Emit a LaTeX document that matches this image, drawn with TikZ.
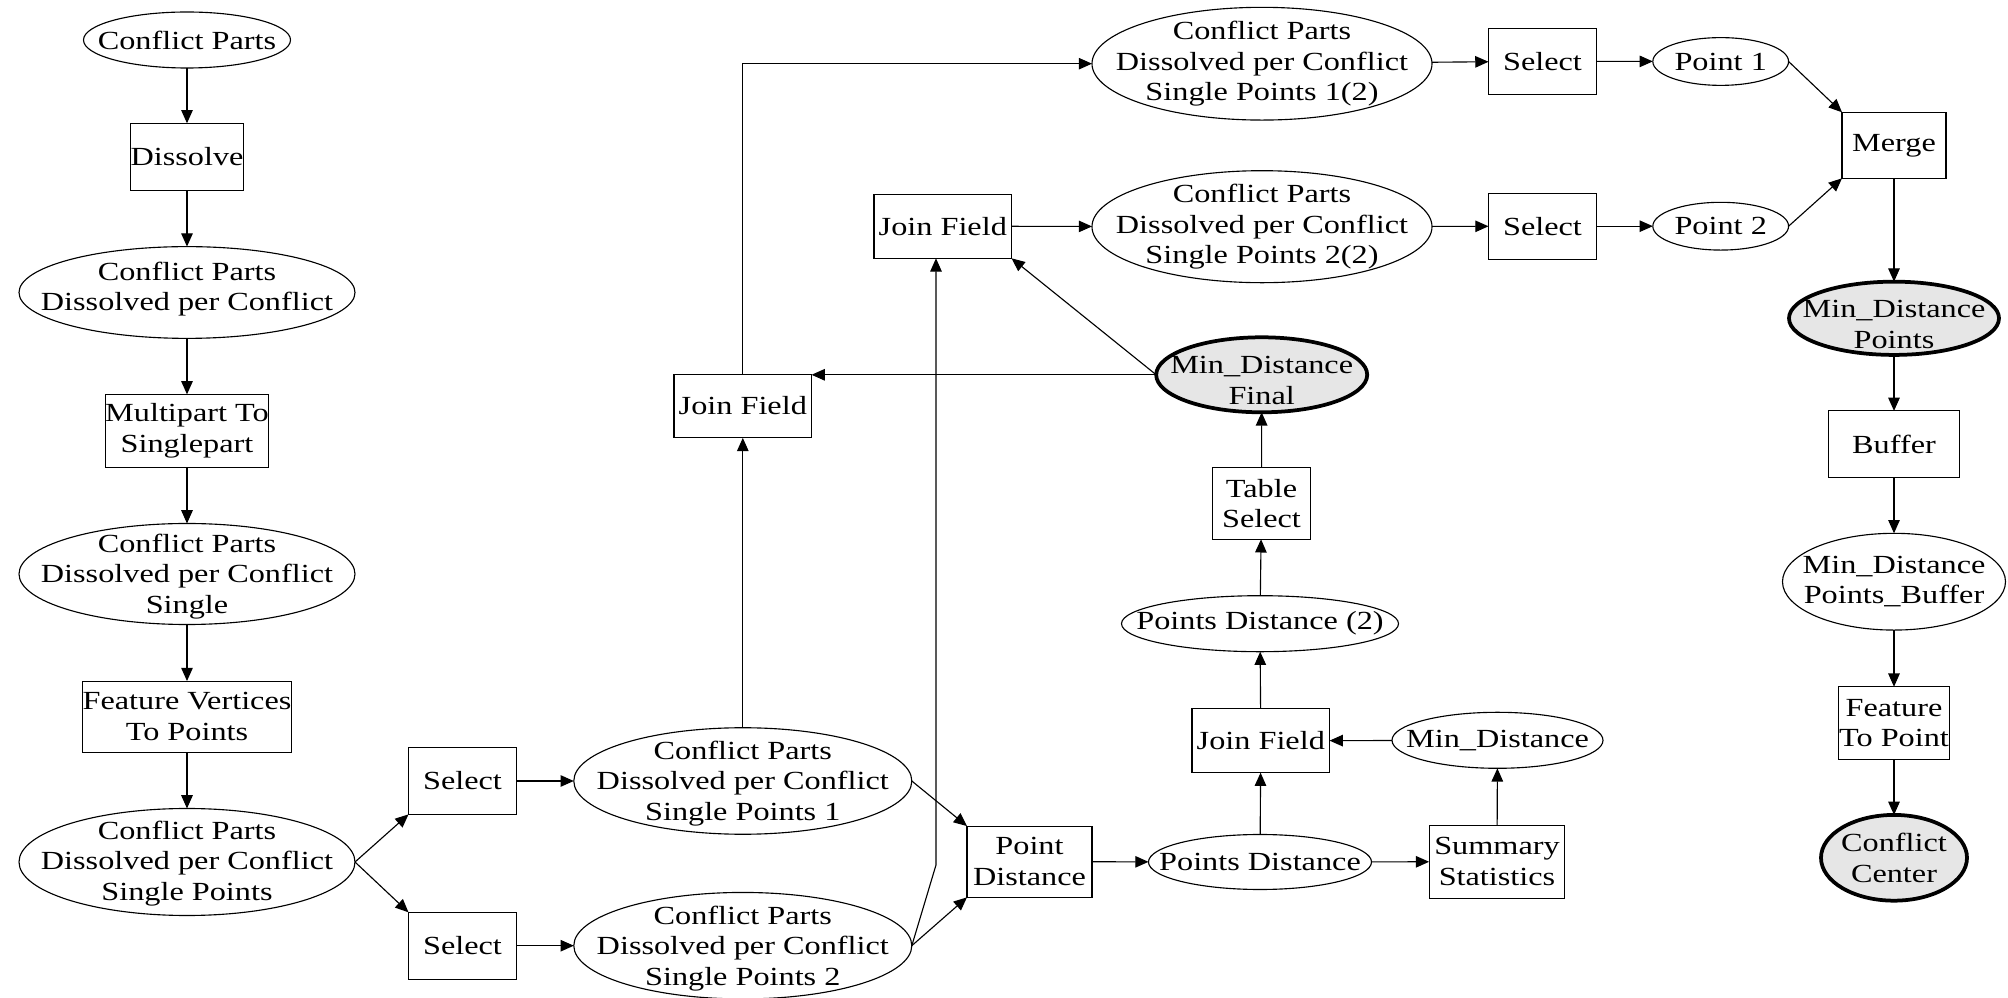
\documentclass[tikz,border=0pt]{standalone}
\usepackage{fontspec}
\setmainfont{Liberation Serif}[FakeStretch=1.235]
\usetikzlibrary{shapes.geometric,arrows.meta}
\definecolor{finalgray}{HTML}{E6E6E6}

\begin{document}
\begin{tikzpicture}[x=0.4pt,y=-0.4pt,
  every node/.style={inner sep=0pt, outer sep=0pt},
  txt/.style={font=\fontsize{10.45}{12.2}\selectfont, align=center},
  proc/.style={draw, rectangle, line width=0.45pt, txt},
  data/.style={draw, ellipse, line width=0.45pt},
  final/.style={data, line width=1.5pt, fill=finalgray},
  flow/.style={-{Triangle[length=5.3pt,width=4.6pt]}, line width=0.45pt}
]
\useasboundingbox (0,0) rectangle (2008,998);

% left column: preparing the conflict points
\node[data, minimum width=82.8pt, minimum height=22.4pt,
      label={[txt]center:Conflict Parts}] (cp) at (187,40) {};
\node[proc, minimum width=45pt, minimum height=26.7pt] (dissolve) at (187,156.7) {Dissolve};
\node[data, minimum width=134.4pt, minimum height=36.7pt,
      label={[txt, yshift=1.4pt]center:{Conflict Parts\\Dissolved per Conflict}}] (cpd) at (187,292.5) {};
\node[proc, minimum width=59.8pt, minimum height=29.3pt] (m2s) at (187,431) {Multipart To\\Singlepart};
\node[data, minimum width=134.4pt, minimum height=40.4pt,
      label={[txt, yshift=-1pt]center:{Conflict Parts\\Dissolved per Conflict\\Single}}] (cpds) at (187,574) {};
\node[proc, minimum width=79.2pt, minimum height=28.5pt] (fv2p) at (187,716.7) {Feature Vertices\\To Points};
\node[data, minimum width=134.4pt, minimum height=42.8pt,
      label={[txt, yshift=-0.5pt]center:{Conflict Parts\\Dissolved per Conflict\\Single Points}}] (cpdsp) at (187,862) {};

% split into two point sets
\node[proc, minimum width=43.2pt, minimum height=26.7pt] (sel1) at (462.5,781) {Select};
\node[proc, minimum width=43.2pt, minimum height=26.7pt] (sel2) at (462.5,945.7) {Select};
\node[data, minimum width=135.2pt, minimum height=42.6pt,
      label={[txt, yshift=-1pt]center:{Conflict Parts\\Dissolved per Conflict\\Single Points 1}}] (cpdsp1) at (742.8,781) {};
\node[data, minimum width=135.2pt, minimum height=42.6pt,
      label={[txt, yshift=-1pt]center:{Conflict Parts\\Dissolved per Conflict\\Single Points 2}}] (cpdsp2) at (742.8,945.7) {};

% distances
\node[proc, minimum width=50pt, minimum height=28.5pt] (pd) at (1029.5,861.7) {Point\\Distance};
\node[data, minimum width=89.2pt, minimum height=22pt,
      label={[txt]center:Points Distance}] (pds) at (1260,862) {};
\node[proc, minimum width=54.3pt, minimum height=29.3pt] (ss) at (1497,861.7) {Summary\\Statistics};
\node[data, minimum width=84.4pt, minimum height=22.4pt,
      label={[txt]center:Min\_Distance}] (md) at (1497.5,740.3) {};
\node[proc, minimum width=55pt, minimum height=25.5pt] (jfm) at (1260.8,740.8) {Join Field};
\node[data, minimum width=110.8pt, minimum height=22.4pt,
      label={[txt]center:Points Distance (2)}] (pd2) at (1260,623.7) {};
\node[proc, minimum width=39.5pt, minimum height=28.6pt] (ts) at (1261.5,503.5) {Table\\Select};
\node[final, minimum width=84.4pt, minimum height=30pt,
      label={[txt, yshift=-2.3pt]center:{Min\_Distance\\Final}}] (mdf) at (1261.7,374.8) {};

% joining the minimum distance back
\node[proc, minimum width=55pt, minimum height=25.5pt] (jfl) at (742.8,406) {Join Field};
\node[proc, minimum width=55pt, minimum height=25.7pt] (jfu) at (942.8,226.2) {Join Field};
\node[data, minimum width=136pt, minimum height=45.1pt,
      label={[txt]center:{Conflict Parts\\Dissolved per Conflict\\Single Points 1(2)}}] (cpdsp12) at (1262,63.7) {};
\node[data, minimum width=136pt, minimum height=44.8pt,
      label={[txt]center:{Conflict Parts\\Dissolved per Conflict\\Single Points 2(2)}}] (cpdsp22) at (1262,226.7) {};
\node[proc, minimum width=43.2pt, minimum height=26.4pt] (sel3) at (1542.5,61.3) {Select};
\node[proc, minimum width=43.2pt, minimum height=26.4pt] (sel4) at (1542.5,226.2) {Select};
\node[data, minimum width=54.3pt, minimum height=19.1pt,
      label={[txt]center:Point 1}] (p1) at (1720.7,61.5) {};
\node[data, minimum width=54.3pt, minimum height=19.1pt,
      label={[txt]center:Point 2}] (p2) at (1720.7,226.2) {};

% right column: conflict centre
\node[proc, minimum width=41.6pt, minimum height=26.4pt] (merge) at (1894,145.3) {Merge};
\node[final, minimum width=84pt, minimum height=29.3pt,
      label={[txt, yshift=-2.5pt]center:{Min\_Distance\\Points}}] (mdp) at (1894,318.3) {};
\node[proc, minimum width=52.7pt, minimum height=26.7pt] (buffer) at (1894,444.3) {Buffer};
\node[data, minimum width=89.2pt, minimum height=38.7pt,
      label={[txt]center:{Min\_Distance\\Points\_Buffer}}] (mdpb) at (1894,581.7) {};
\node[proc, minimum width=44.5pt, minimum height=29pt] (ftp) at (1894,723) {Feature\\To Point};
\node[final, minimum width=58.4pt, minimum height=34.3pt,
      label={[txt]center:{Conflict\\Center}}] (cc) at (1894,857.8) {};

\coordinate (bend) at (936,865);

% connectors
\draw[flow] (cp) -- (dissolve);
\draw[flow] (dissolve) -- (cpd);
\draw[flow] (cpd) -- (m2s);
\draw[flow] (m2s) -- (cpds);
\draw[flow] (cpds) -- (fv2p);
\draw[flow] (fv2p) -- (cpdsp);
\draw[flow] (cpdsp.east) -- (sel1.south west);
\draw[flow] (cpdsp.east) -- (sel2.north west);
\draw[flow] (sel1) -- (cpdsp1);
\draw[flow] (sel2) -- (cpdsp2);
\draw[flow] (cpdsp1.east) -- (pd.north west);
\draw[flow] (cpdsp2.east) -- (pd.south west);
\draw[flow] (cpdsp2.east) -- (bend) -- (bend |- jfu.south);
\draw[flow] (cpdsp1.north) -- (jfl.south);
\draw[flow] (pd) -- (pds);
\draw[flow] (pds) -- (ss);
\draw[flow] (ss) -- (md);
\draw[flow] (md) -- (jfm);
\draw[flow] (pds) -- (jfm);
\draw[flow] (jfm) -- (pd2);
\draw[flow] (pd2) -- (ts);
\draw[flow] (ts) -- (mdf);
\draw[flow] (mdf.west) -- (mdf.west -| jfl.east);
\draw[flow] (mdf.west) -- (jfu.south east);
\draw[flow] (jfl.north) |- (cpdsp12.west);
\draw[flow] (jfu) -- (cpdsp22);
\draw[flow] (cpdsp12) -- (sel3);
\draw[flow] (cpdsp22) -- (sel4);
\draw[flow] (sel3) -- (p1);
\draw[flow] (sel4) -- (p2);
\draw[flow] (p1.east) -- (merge.north west);
\draw[flow] (p2.east) -- (merge.south west);
\draw[flow] (merge) -- (mdp);
\draw[flow] (mdp) -- (buffer);
\draw[flow] (buffer) -- (mdpb);
\draw[flow] (mdpb) -- (ftp);
\draw[flow] (ftp) -- (cc);
\end{tikzpicture}
\end{document}
